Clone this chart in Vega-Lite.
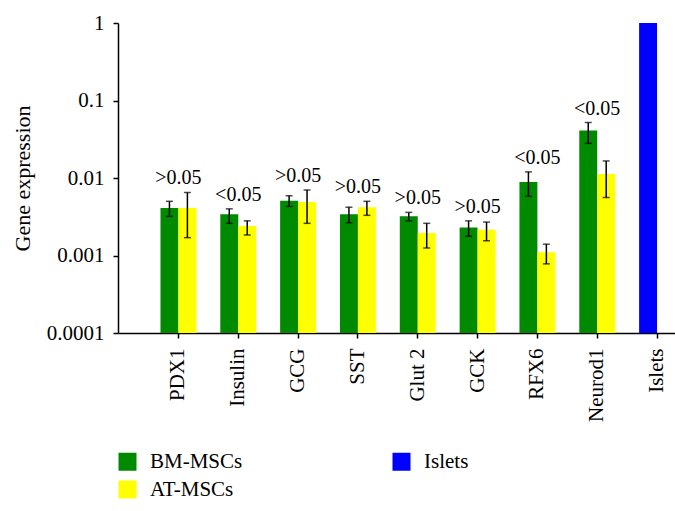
{
  "$schema": "https://vega.github.io/schema/vega-lite/v6.json",
  "autosize": {"type": "none"},
  "padding": {"left": 118, "top": 23, "right": 0, "bottom": 178},
  "width": 557,
  "height": 310,
  "background": "white",
  "config": {
    "view": {"stroke": null},
    "font": "Liberation Serif",
    "text": {"font": "Liberation Serif"},
    "axis": {"domainColor": "black", "domainWidth": 1.5, "tickColor": "black", "tickWidth": 1.5, "grid": false, "labelColor": "black", "titleColor": "black", "labelFont": "Liberation Serif", "titleFont": "Liberation Serif"}
  },
  "data": {
    "values": [
      {"gene": "PDX1", "group": "BM-MSCs", "slot": "a", "value": 0.0041, "lo": 0.0032, "hi": 0.0050, "p": ">0.05"},
      {"gene": "PDX1", "group": "AT-MSCs", "slot": "b", "value": 0.0041, "lo": 0.0017, "hi": 0.0065},
      {"gene": "Insulin", "group": "BM-MSCs", "slot": "a", "value": 0.0034, "lo": 0.0026, "hi": 0.0040, "p": "<0.05"},
      {"gene": "Insulin", "group": "AT-MSCs", "slot": "b", "value": 0.0024, "lo": 0.00184, "hi": 0.0028},
      {"gene": "GCG", "group": "BM-MSCs", "slot": "a", "value": 0.0051, "lo": 0.0043, "hi": 0.0059, "p": ">0.05"},
      {"gene": "GCG", "group": "AT-MSCs", "slot": "b", "value": 0.0049, "lo": 0.0026, "hi": 0.0070},
      {"gene": "SST", "group": "BM-MSCs", "slot": "a", "value": 0.0034, "lo": 0.00265, "hi": 0.0042, "p": ">0.05"},
      {"gene": "SST", "group": "AT-MSCs", "slot": "b", "value": 0.0042, "lo": 0.0033, "hi": 0.0050},
      {"gene": "Glut 2", "group": "BM-MSCs", "slot": "a", "value": 0.0032, "lo": 0.0028, "hi": 0.0036, "p": ">0.05"},
      {"gene": "Glut 2", "group": "AT-MSCs", "slot": "b", "value": 0.00195, "lo": 0.00125, "hi": 0.0026},
      {"gene": "GCK", "group": "BM-MSCs", "slot": "a", "value": 0.0023, "lo": 0.00177, "hi": 0.0028, "p": ">0.05"},
      {"gene": "GCK", "group": "AT-MSCs", "slot": "b", "value": 0.00215, "lo": 0.00155, "hi": 0.0027},
      {"gene": "RFX6", "group": "BM-MSCs", "slot": "a", "value": 0.0089, "lo": 0.0058, "hi": 0.012, "p": "<0.05"},
      {"gene": "RFX6", "group": "AT-MSCs", "slot": "b", "value": 0.0011, "lo": 0.00078, "hi": 0.0014},
      {"gene": "Neurod1", "group": "BM-MSCs", "slot": "a", "value": 0.041, "lo": 0.028, "hi": 0.052, "p": "<0.05"},
      {"gene": "Neurod1", "group": "AT-MSCs", "slot": "b", "value": 0.0113, "lo": 0.0056, "hi": 0.0166},
      {"gene": "Islets", "group": "Islets", "slot": "a", "value": 1}
    ]
  },
  "encoding": {
    "x": {
      "field": "gene", "type": "nominal", "sort": null,
      "scale": {"paddingInner": 0.4, "paddingOuter": 0.355, "align": 1},
      "axis": {"title": null, "labelAngle": 270, "labelAlign": "right", "labelBaseline": "middle", "labelFontSize": 21, "labelPadding": 10, "tickSize": 5}
    }
  },
  "layer": [
    {
      "mark": {"type": "bar"},
      "encoding": {
        "xOffset": {"field": "slot", "type": "nominal", "scale": {"domain": ["a", "b"]}},
        "y": {
          "field": "value", "type": "quantitative",
          "scale": {"type": "log", "domain": [0.0001, 1], "nice": false},
          "axis": {"title": "Gene expression", "values": [0.0001, 0.001, 0.01, 0.1, 1], "format": "~g", "labelFontSize": 21, "titleFontSize": 22, "titleFontWeight": "normal", "tickSize": 5, "labelPadding": 9, "titlePadding": 12}
        },
        "y2": {"datum": 0.0001},
        "color": {
          "field": "group", "type": "nominal",
          "scale": {"domain": ["BM-MSCs", "AT-MSCs", "Islets"], "range": ["#008a00", "#ffff00", "#0000ff"]},
          "legend": {"title": null, "orient": "none", "legendX": -1, "legendY": 428, "columns": 2, "symbolType": "square", "symbolSize": 324, "symbolStrokeWidth": 0, "symbolOpacity": 1, "labelFontSize": 21, "labelFont": "Liberation Serif", "labelColor": "black", "labelOffset": 12, "rowPadding": 6, "columnPadding": 148, "padding": 0}
        }
      }
    },
    {
      "transform": [{"filter": "isValid(datum.lo)"}],
      "mark": {"type": "rule", "color": "black", "strokeWidth": 1.5},
      "encoding": {
        "xOffset": {"field": "slot", "type": "nominal", "scale": {"domain": ["a", "b"]}},
        "y": {"field": "lo", "type": "quantitative"},
        "y2": {"field": "hi"}
      }
    },
    {
      "transform": [{"filter": "isValid(datum.lo)"}],
      "mark": {"type": "tick", "color": "black", "size": 7, "thickness": 1.5},
      "encoding": {
        "xOffset": {"field": "slot", "type": "nominal", "scale": {"domain": ["a", "b"]}},
        "y": {"field": "lo", "type": "quantitative"}
      }
    },
    {
      "transform": [{"filter": "isValid(datum.lo)"}],
      "mark": {"type": "tick", "color": "black", "size": 7, "thickness": 1.5},
      "encoding": {
        "xOffset": {"field": "slot", "type": "nominal", "scale": {"domain": ["a", "b"]}},
        "y": {"field": "hi", "type": "quantitative"}
      }
    },
    {
      "transform": [
        {"joinaggregate": [{"op": "max", "field": "hi", "as": "top"}], "groupby": ["gene"]},
        {"filter": "isValid(datum.p)"}
      ],
      "mark": {"type": "text", "fontSize": 20, "font": "Liberation Serif", "color": "black", "baseline": "middle", "dy": -14},
      "encoding": {
        "y": {"field": "top", "type": "quantitative"},
        "text": {"field": "p"}
      }
    }
  ]
}
